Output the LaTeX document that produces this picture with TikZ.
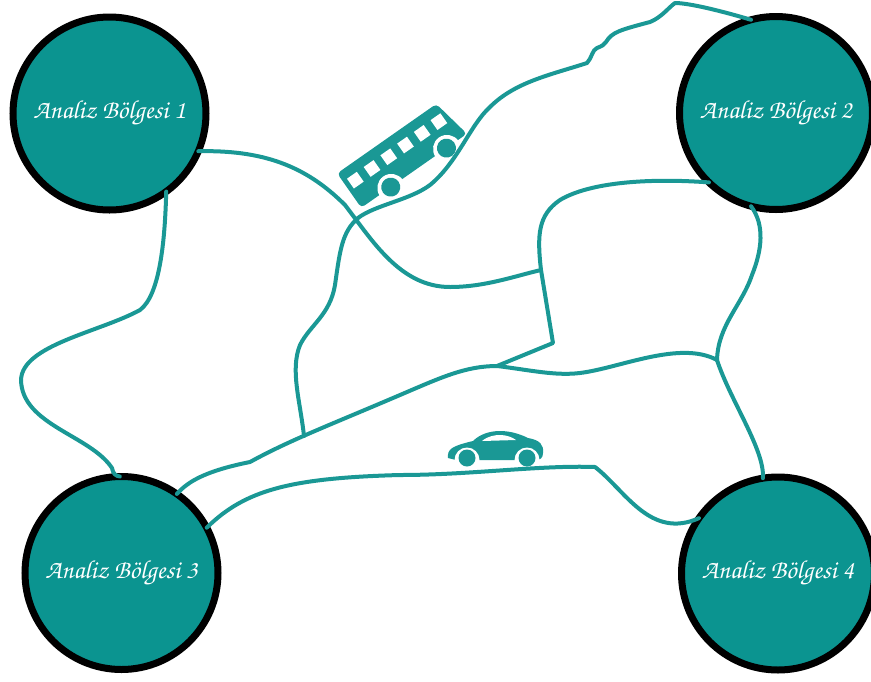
\documentclass[tikz,border=0pt]{standalone}
\usepackage{tikz}
\definecolor{tealfill}{HTML}{0B9490}
\definecolor{tealroad}{HTML}{1A9895}
\tikzset{
  region/.style={circle,draw=black,fill=tealfill,line width=7pt,minimum size=193pt,inner sep=0pt,outer sep=0pt,text=white,
    font=\fontencoding{T1}\fontfamily{pzc}\fontseries{m}\fontshape{it}\fontsize{26}{30}\selectfont},
  road/.style={draw=tealroad,line width=4pt,line join=round,line cap=round},
  icon/.style={fill=tealroad,draw=none},
  hole/.style={fill=white,draw=none}
}
\begin{document}
\begin{tikzpicture}[x=1pt,y=-1pt]
\useasboundingbox (0,0) rectangle (871,681);
% regions
\node[region] (reg1) at (109.5,113.5) {Analiz B\"olgesi 1};
\node[region] (reg2) at (776,113) {Analiz B\"olgesi 2};
\node[region] (reg3) at (121.5,573) {Analiz B\"olgesi 3};
\node[region] (reg4) at (778,573.5) {Analiz B\"olgesi 4};
% junctions
\coordinate (west) at (541,270);
\coordinate (mid) at (497,366);
\coordinate (east) at (717,360);
\coordinate (south) at (304,436);
\coordinate (bend) at (358,218);
% bus
\begin{scope}[shift={(400,155)},rotate=35]
\fill[icon,rounded corners=4pt] (-62,-21) -- (59,-21) -- (67,21) -- (-62,21) -- cycle;
\foreach \i in {0,...,5} {
  \fill[hole] (-51+\i*20.4-6,-5-6) rectangle ++(12,12);
}
\foreach \i in {-26,42} {
  \fill[hole] (\i,22) circle (14);
  \fill[icon] (\i,21) circle (9.5);
}
\end{scope}
% car
\fill[icon] (448,458) .. controls (447,449) and (452,446) .. (473,441)
  .. controls (480,434) and (490,431) .. (500,431)
  .. controls (512,431) and (522,435) .. (528,438)
  .. controls (540,440) and (544,445) .. (543,453)
  .. controls (543,458) and (540,460) .. (536,460) -- (456,460) -- cycle;
\fill[hole] (482,441) .. controls (488,436) and (495,435) .. (500,435)
  .. controls (506,435) and (512,437) .. (516,440) -- cycle;
\foreach \i in {467,527} {
  \fill[hole] (\i,460) circle (12.5);
  \fill[icon] (\i,458) circle (8.5);
}
% roads
\draw[road] (reg1.-23) .. controls (262,150) and (305,165) .. (345,205)
  .. controls (372,240) and (400,287) .. (450,287)
  .. controls (485,287) and (515,276) .. (west);
\draw[road] (west) .. controls (537,235) and (538,215) .. (560,200)
  .. controls (590,182) and (650,178) .. (reg2.-134);
\draw[road] (west) -- (553,343) -- (mid);
\draw[road] (reg2.-105) .. controls (765,225) and (762,250) .. (752,275)
  .. controls (742,305) and (718,325) .. (east);
\draw[road] (east) .. controls (730,400) and (765,450) .. (reg4.99);
\draw[road] (reg3.55) .. controls (186,484) and (200,472) .. (250,462)
  .. controls (290,440) and (330,425) .. (400,395)
  .. controls (440,378) and (465,366) .. (mid);
\draw[road] (mid) .. controls (530,370) and (555,376) .. (580,373)
  .. controls (620,368) and (680,340) .. (east);
\draw[road] (south) .. controls (300,400) and (290,370) .. (300,345)
  .. controls (310,325) and (330,315) .. (335,285)
  .. controls (340,250) and (342,232) .. (bend);
\draw[road] (bend) .. controls (375,205) and (410,200) .. (430,185)
  .. controls (458,162) and (470,125) .. (490,107)
  .. controls (515,82) and (550,75) .. (587,63)
  .. controls (592,58) and (592,50) .. (597,48)
  .. controls (602,46) and (604,45) .. (606,42)
  .. controls (612,32) and (620,30) .. (650,22)
  .. controls (662,17) and (668,8) .. (675,3)
  .. controls (690,3) and (725,12) .. (reg2.105);
\draw[road] (reg1.-54) .. controls (165,240) and (160,295) .. (140,310)
  .. controls (100,332) and (22,345) .. (21,380)
  .. controls (22,425) and (90,435) .. (112,468)
  .. controls (113,474) and (116,476) .. (reg3.91);
\draw[road] (reg3.28) .. controls (245,490) and (290,478) .. (400,475)
  .. controls (470,475) and (540,465) .. (595,467)
  .. controls (625,490) and (650,540) .. (reg4.145);
\end{tikzpicture}
\end{document}
